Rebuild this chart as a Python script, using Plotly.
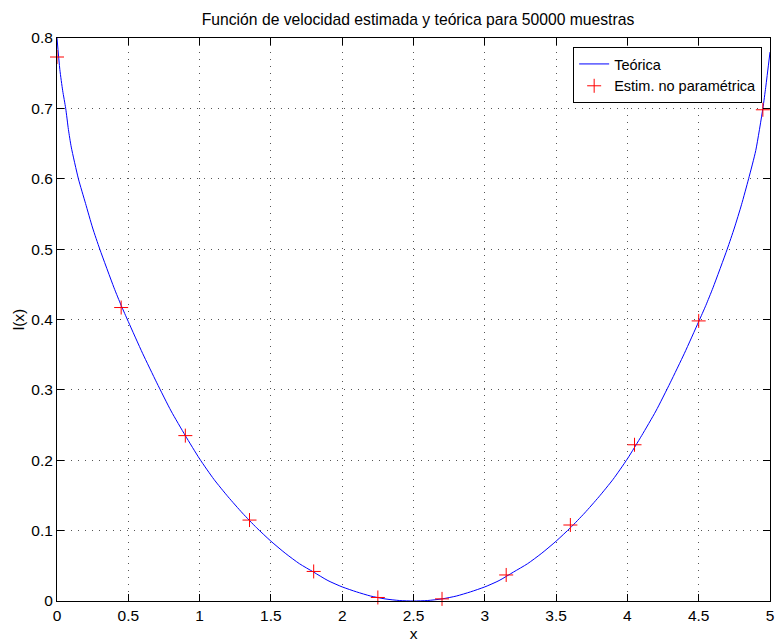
import plotly.graph_objects as go

# Theoretical curve
x_theory = [0.0, 0.02, 0.04, 0.061, 0.08, 0.1, 0.15, 0.2, 0.25, 0.3, 0.4, 0.45, 0.5, 0.6, 0.7,
            0.8, 0.9, 1.0, 1.1, 1.2, 1.3, 1.4, 1.5, 1.6, 1.7, 1.8, 1.9, 2.0, 2.1, 2.2,
            2.3, 2.4, 2.5, 2.6, 2.7, 2.8, 2.9, 3.0, 3.1, 3.2, 3.3, 3.4, 3.5, 3.6, 3.7,
            3.8, 3.9, 4.0, 4.1, 4.2, 4.3, 4.4, 4.5, 4.55, 4.6, 4.7, 4.75, 4.8, 4.85,
            4.9, 4.95, 4.97, 5.0]
y_theory = [0.80, 0.755, 0.725, 0.70, 0.67, 0.645, 0.60, 0.565, 0.53, 0.50, 0.445, 0.42, 0.397, 0.352, 0.31,
            0.27, 0.235, 0.202, 0.173, 0.148, 0.125, 0.104, 0.085, 0.068, 0.053, 0.041, 0.029, 0.020, 0.013, 0.007,
            0.003, 0.0007, 0.0, 0.0007, 0.003, 0.007, 0.013, 0.020, 0.029, 0.041, 0.053, 0.068, 0.085, 0.104, 0.125,
            0.148, 0.173, 0.202, 0.235, 0.27, 0.31, 0.352, 0.397, 0.42, 0.445, 0.50, 0.53, 0.563, 0.60,
            0.64, 0.70, 0.73, 0.78]

# Non-parametric estimate
x_est = [0.0, 0.45, 0.9, 1.35, 1.8, 2.25, 2.7, 3.15, 3.6, 4.05, 4.5, 4.95]
y_est = [0.773, 0.417, 0.235, 0.115, 0.042, 0.005, 0.003, 0.037, 0.108, 0.222, 0.398, 0.698]

x_ticks = [0, 0.5, 1, 1.5, 2, 2.5, 3, 3.5, 4, 4.5, 5]
y_ticks = [0, 0.1, 0.2, 0.3, 0.4, 0.5, 0.6, 0.7, 0.8]

FONT = "Liberation Sans, Arial, Helvetica, sans-serif"

fig = go.Figure()
fig.add_trace(go.Scatter(x=x_theory, y=y_theory, mode="lines", name="Teórica",
                         line=dict(color="#0000ff", width=1, shape="spline", smoothing=0.6)))
fig.add_trace(go.Scatter(x=x_est, y=y_est, mode="markers", name="Estim. no paramétrica",
                         cliponaxis=False,
                         marker=dict(symbol="cross-thin", size=10, color="#ff0000",
                                     line=dict(color="#ff0000", width=1))))

axis_common = dict(showline=True, linecolor="black", linewidth=1, mirror="allticks",
                   ticks="inside", ticklen=7, tickcolor="black", tickwidth=1,
                   showgrid=True, gridcolor="#555555", gridwidth=1, griddash="1px,6px",
                   zeroline=False, tickfont=dict(family=FONT, size=15.5, color="black"))

fig.update_xaxes(range=[0, 5], tickvals=x_ticks, ticktext=[f"{v:g}" for v in x_ticks],
                 title=dict(text="x", font=dict(family=FONT, size=15.5, color="black"), standoff=5),
                 **axis_common)
fig.update_yaxes(range=[0, 0.8], tickvals=y_ticks, ticktext=[f"{v:g}" for v in y_ticks],
                 title=dict(text="l(x)", font=dict(family=FONT, size=15.5, color="black"), standoff=2),
                 **axis_common)

fig.update_layout(
    width=777, height=642,
    margin=dict(l=57, r=7, t=38, b=41, autoexpand=False),
    paper_bgcolor="white", plot_bgcolor="white",
    title=dict(text="Función de velocidad estimada y teórica para 50000 muestras",
               x=418 / 777, xanchor="center", y=1 - 20 / 642, yanchor="middle",
               font=dict(family=FONT, size=15.7, color="black")),
    legend=dict(x=0.989, y=0.984, xanchor="right", yanchor="top",
                bgcolor="white", bordercolor="black", borderwidth=1,
                font=dict(family=FONT, size=14.5, color="black"),
                tracegroupgap=0, itemwidth=30),
    showlegend=True,
)

fig.write_html("out.html", config={"displayModeBar": False},
               post_script="document.body.style.margin='0';document.body.style.overflow='hidden';")
